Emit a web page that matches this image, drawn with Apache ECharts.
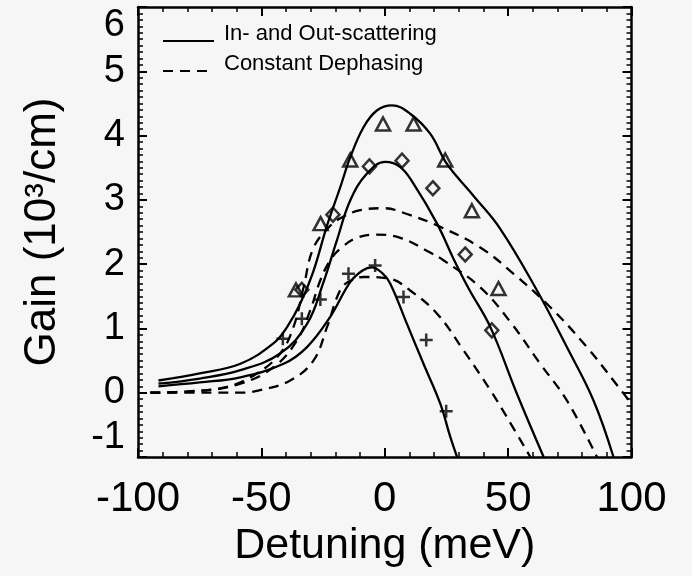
<!DOCTYPE html>
<html>
<head>
<meta charset="utf-8">
<script src="https://cdn.jsdelivr.net/npm/echarts@6/dist/echarts.min.js"></script>
<style>
  html, body { margin: 0; padding: 0; background: #f6f6f6; }
  #chart { width: 692px; height: 576px; }
</style>
</head>
<body>
<div id="chart"></div>
<script>
// x ticks / y ticks
var xTicks = [-100, -50, 0, 50, 100];
var yTicks = [-1, 0, 1, 2, 3, 4, 5, 6];

// In- and Out-scattering (solid)
var solidA = [[-91.7,0.19],[-75,0.3],[-58.5,0.45],[-45,0.77],[-39.6,1.02],[-34.2,1.39],[-29,1.88],[-23.4,2.6],[-18,3.2],[-14,3.66],[-8.6,4.13],[-3.2,4.39],[2.9,4.47],[10.3,4.34],[18.4,4.03],[24.5,3.6],[29.3,3.36],[36,3.06],[46.8,2.55],[61.7,1.59],[73.8,0.71],[84.6,-0.12],[92.7,-1.0]];
var solidB = [[-91.7,0.14],[-75,0.22],[-58.5,0.35],[-42.4,0.61],[-31.5,1.07],[-25,1.7],[-19.4,2.37],[-14,2.99],[-7.2,3.41],[0.2,3.59],[6.3,3.51],[11.7,3.25],[21.2,2.63],[27.9,2.08],[34,1.62],[42.8,1.02],[53.6,-0.02],[64.4,-1.0]];
var solidC = [[-91.7,0.1],[-75,0.16],[-58.5,0.24],[-41,0.45],[-31.5,0.71],[-22.1,1.18],[-14,1.72],[-9,1.9],[-5.2,1.95],[-1,1.86],[2.2,1.7],[9,1.07],[15.7,0.45],[22.5,-0.17],[26.5,-0.68],[29.3,-1.0]];

// Constant Dephasing (dashed)
var dashD = [[-95,0.0],[-80,0.02],[-64,0.09],[-51.8,0.3],[-42.4,0.61],[-37,1.02],[-32.9,1.64],[-28.9,2.25],[-22,2.6],[-16.7,2.74],[-9.9,2.84],[-0.5,2.87],[9,2.78],[22.5,2.58],[38.7,2.26],[52.2,1.85],[67.1,1.33],[81.9,0.71],[94.7,0.09],[100,-0.17]];
var dashE = [[-95,0.0],[-75,0.03],[-58.5,0.14],[-45,0.4],[-35.6,0.81],[-30.2,1.28],[-26.1,1.75],[-22.1,2.06],[-18,2.24],[-11.3,2.41],[-3.2,2.46],[6.3,2.41],[18.4,2.18],[23.8,2.06],[38.7,1.64],[50.9,1.1],[63,0.45],[73.8,-0.12],[86,-1.0]];
var dashF = [[-95,0.0],[-75,0.0],[-58.5,0.0],[-50.5,0.04],[-38.3,0.19],[-28.9,0.5],[-23.4,1.02],[-18,1.6],[-14,1.74],[-8.6,1.8],[2.2,1.77],[10.3,1.59],[21.2,1.23],[31.9,0.66],[42.8,0.04],[49.5,-0.38],[59,-1.0]];

// measured points
var triangles = [[-36,1.6],[-26,2.63],[-14,3.62],[-0.7,4.18],[11.7,4.18],[24.5,3.62],[35.3,2.83],[46.1,1.62]];
var diamonds = [[-33.6,1.6],[-21,2.77],[-6.2,3.52],[7,3.61],[19.5,3.18],[32.6,2.15],[43.4,0.97]];
var pluses = [[-41.3,0.84],[-33.6,1.15],[-26.1,1.45],[-14.7,1.85],[-3.9,1.98],[7.6,1.49],[16.8,0.82],[24.9,-0.29]];

var nameSolid = 'In- and Out-scattering';
var nameDash = 'Constant Dephasing';

var font = 'Liberation Sans';
var bg = '#f6f6f6';

function curve (name, data, dashed) {
    return {
        name: name,
        type: 'line',
        data: data,
        smooth: 0.4,
        symbol: 'none',
        clip: true,
        lineStyle: { color: '#000', width: 2.3, type: dashed ? [10, 7] : 'solid' },
        itemStyle: { color: '#000' },
        z: 3
    };
}

function marks (name, data, symbol, size) {
    return {
        name: name,
        type: 'scatter',
        data: data,
        symbol: symbol,
        symbolSize: size,
        itemStyle: { color: 'none', borderColor: '#000', borderWidth: 2.5 },
        z: 4
    };
}

function baseX (pos, showLabel) {
    return {
        type: 'value', position: pos, min: xTicks[0], max: xTicks[xTicks.length - 1], interval: 50,
        axisLine: { show: true, onZero: false, lineStyle: { color: '#000', width: 2.5 } },
        axisTick: { show: true, inside: true, length: 9, lineStyle: { color: '#000', width: 2 } },
        minorTick: { show: true, splitNumber: 5, length: 5, lineStyle: { color: '#000', width: 1.5 } },
        splitLine: { show: false },
        axisLabel: { show: showLabel, color: '#000', fontFamily: font, fontSize: 42, margin: 21 }
    };
}

function baseY (pos, showLabel) {
    return {
        type: 'value', position: pos, min: yTicks[0], max: yTicks[yTicks.length - 1], interval: 1,
        axisLine: { show: true, onZero: false, lineStyle: { color: '#000', width: 2.5 } },
        axisTick: { show: true, inside: true, length: 9, lineStyle: { color: '#000', width: 2 } },
        minorTick: { show: true, splitNumber: 10, length: 5, lineStyle: { color: '#000', width: 1.5 } },
        splitLine: { show: false },
        axisLabel: {
            show: showLabel, color: '#000', fontFamily: font, fontSize: 38, margin: 13,
            verticalAlignMinLabel: 'bottom', verticalAlignMaxLabel: 'top'
        }
    };
}

var xBottom = baseX('bottom', true);
xBottom.name = 'Detuning (meV)';
xBottom.nameLocation = 'middle';
xBottom.nameGap = 68;
xBottom.nameTextStyle = { color: '#000', fontFamily: font, fontSize: 43 };

var yLeft = baseY('left', true);
yLeft.name = 'Gain (10³/cm)';
yLeft.nameLocation = 'middle';
yLeft.nameGap = 73;
yLeft.nameTextStyle = { color: '#000', fontFamily: font, fontSize: 44 };

// text sits a little above its line sample: an empty second line lifts it
function legendAt (name, top) {
    return {
        data: [name], orient: 'vertical', left: 162, top: top, padding: 0,
        itemWidth: 51, itemHeight: 14,
        itemStyle: { opacity: 0 },
        formatter: function (n) { return n + '\n '; },
        textStyle: { color: '#000', fontFamily: font, fontSize: 22, lineHeight: 14, padding: [0, 0, 0, 5] }
    };
}

var option = {
    backgroundColor: bg,
    animation: false,
    grid: { left: 138, top: 7, width: 493.5, height: 450, containLabel: false },
    legend: [legendAt(nameSolid, 23), legendAt(nameDash, 53)],
    xAxis: [xBottom, baseX('top', false)],
    yAxis: [yLeft, baseY('right', false)],
    series: [
        curve(nameSolid, solidA, false),
        curve(nameSolid, solidB, false),
        curve(nameSolid, solidC, false),
        curve(nameDash, dashD, true),
        curve(nameDash, dashE, true),
        curve(nameDash, dashF, true),
        marks('triangles', triangles, 'triangle', [14, 13]),
        marks('diamonds', diamonds, 'diamond', [13, 14]),
        marks('pluses', pluses, 'path://M0,5L10,5M5,0L5,10', 13)
    ]
};

var chart = echarts.init(document.getElementById('chart'));
chart.setOption(option);
</script>
</body>
</html>
